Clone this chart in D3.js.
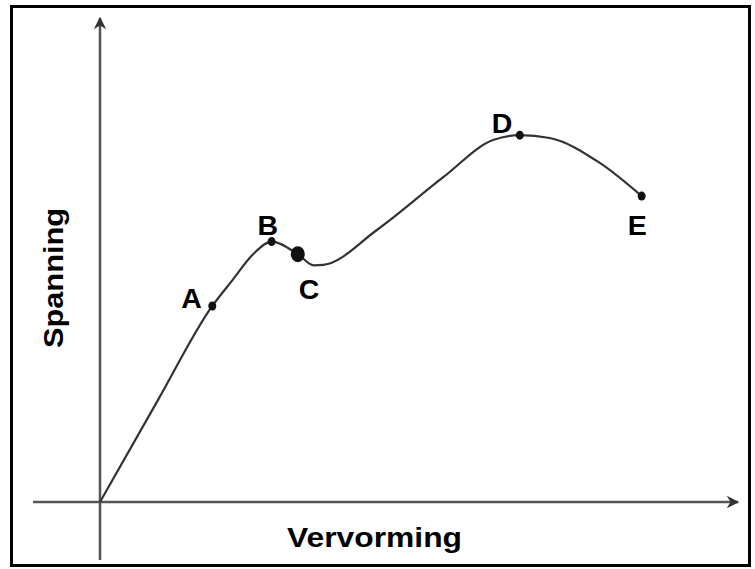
<!DOCTYPE html>
<html>
<head>
<meta charset="utf-8">
<script src="https://cdn.jsdelivr.net/npm/d3@7"></script>
<style>
  body { margin: 0; background: #fff; }
  text { font-family: "Liberation Sans", Arial, sans-serif; font-weight: bold; fill: #000; }
</style>
</head>
<body>
<div id="chart"></div>
<script>
// curve (arbitrary units: vervorming, spanning)
const strain = [0, 0.91, 1.76, 2.08, 2.40, 2.69, 3.10, 3.35, 3.50, 4.34, 5.38, 6.16, 6.58, 7.05, 7.84, 8.49];
const stress = [0, 2.11, 4.05, 4.59, 5.12, 5.38, 5.12, 4.89, 4.90, 5.62, 6.71, 7.48, 7.58, 7.52, 7.00, 6.32];
// marked points
const pointNames = ["A", "B", "C", "D", "E"];
const pointStrain = [1.76, 2.69, 3.10, 6.58, 8.49];
const pointStress = [4.05, 5.38, 5.12, 7.58, 6.32];
const xTitle = "Vervorming";
const yTitle = "Spanning";

const svgWidth = 755
const svgHeight = 569

const svg = d3.select("#chart")
  .append("svg")
  .attr("width", svgWidth)
  .attr("height", svgHeight)

// outer frame
svg.append("rect")
  .attr("x", 11.5)
  .attr("y", 6.5)
  .attr("width", 738)
  .attr("height", 559)
  .attr("fill", "none")
  .attr("stroke", "#000")
  .attr("stroke-width", 3)

const xScale = d3.scaleLinear().domain([0, 10]).range([100, 738])
const yScale = d3.scaleLinear().domain([0, 10]).range([502, 18])

// arrow marker
svg.append("defs").append("marker")
  .attr("id", "arrow")
  .attr("viewBox", "0 0 10 10")
  .attr("refX", 9)
  .attr("refY", 5)
  .attr("markerWidth", 5)
  .attr("markerHeight", 5)
  .attr("markerUnits", "strokeWidth")
  .attr("orient", "auto")
  .append("path")
  .attr("d", "M0,0 L10,5 L0,10 L3,5 Z")
  .attr("fill", "#333")

// axes (no ticks)
svg.append("line")
  .attr("x1", xScale(-1.05)).attr("x2", xScale(10))
  .attr("y1", yScale(0)).attr("y2", yScale(0))
  .attr("stroke", "#555")
  .attr("stroke-width", 2.5)
  .attr("marker-end", "url(#arrow)")
svg.append("line")
  .attr("x1", xScale(0)).attr("x2", xScale(0))
  .attr("y1", yScale(-1.2)).attr("y2", yScale(10))
  .attr("stroke", "#555")
  .attr("stroke-width", 2.5)
  .attr("marker-end", "url(#arrow)")

// curve
const curveData = strain.map((d, i) => ({x: d, y: stress[i]}))
const line = d3.line()
  .x(d => xScale(d.x))
  .y(d => yScale(d.y))
  .curve(d3.curveMonotoneX)
svg.append("path")
  .datum(curveData)
  .attr("d", line)
  .attr("fill", "none")
  .attr("stroke", "#333")
  .attr("stroke-width", 2.2)

// points
const pts = pointNames.map((n, i) => ({name: n, x: pointStrain[i], y: pointStress[i]}))
svg.selectAll("ellipse.pt")
  .data(pts)
  .enter()
  .append("ellipse")
  .attr("class", "pt")
  .attr("cx", d => xScale(d.x))
  .attr("cy", d => yScale(d.y))
  .attr("rx", d => d.name == "C" ? 7 : 4)
  .attr("ry", d => d.name == "C" ? 8 : 4.5)
  .attr("fill", "#111")

// label offsets relative to the point (text start, baseline)
const labelOffset = {A: [-31, 2], B: [-14, -7], C: [1, 45], D: [-28, -2], E: [-14, 39]}
svg.selectAll("text.lbl")
  .data(pts)
  .enter()
  .append("text")
  .attr("class", "lbl")
  .attr("x", d => xScale(d.x) + labelOffset[d.name][0])
  .attr("y", d => yScale(d.y) + labelOffset[d.name][1])
  .style("font-size", "28.5px")
  .text(d => d.name)

// axis titles
svg.append("text")
  .attr("x", 374.5)
  .attr("y", 547)
  .style("text-anchor", "middle")
  .style("font-size", "28px")
  .attr("textLength", 175)
  .attr("lengthAdjust", "spacingAndGlyphs")
  .text(xTitle)
svg.append("text")
  .attr("transform", "translate(63, 278) rotate(-90)")
  .style("text-anchor", "middle")
  .style("font-size", "28px")
  .attr("textLength", 140)
  .attr("lengthAdjust", "spacingAndGlyphs")
  .text(yTitle)
</script>
</body>
</html>
